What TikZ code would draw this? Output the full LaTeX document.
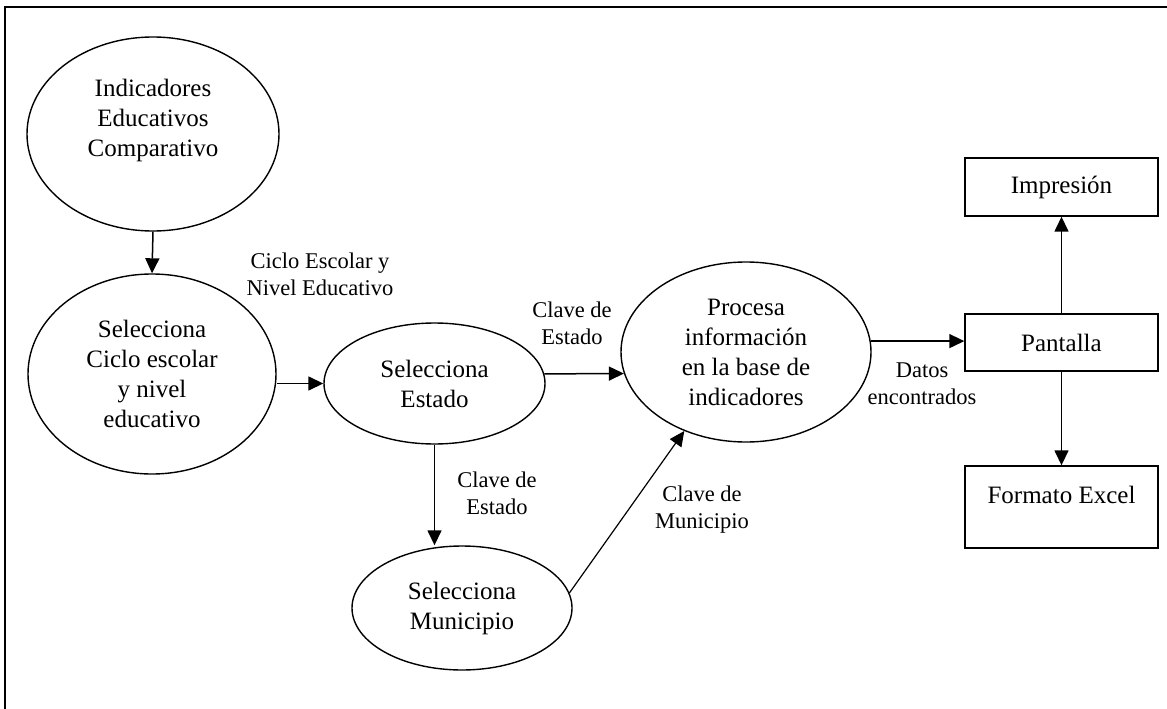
\documentclass[tikz,border=0pt]{standalone}
\usepackage{fontspec}
\setmainfont{Liberation Serif}
\usetikzlibrary{shapes.geometric,arrows.meta}

\tikzset{
  proc/.style={draw, ellipse, line width=1.4pt, align=center, inner sep=0pt,
    font=\fontsize{25}{30}\selectfont},
  proctext/.style={align=center, font=\fontsize{25}{30}\selectfont},
  outbox/.style={draw, rectangle, line width=1.4pt, minimum width=193pt,
    align=center, inner sep=0pt, font=\fontsize{25}{30}\selectfont},
  flow/.style={line width=1.5pt, -{Triangle[length=15pt,width=14pt]}},
  lbl/.style={align=center, font=\fontsize{22.5}{27}\selectfont},
}

\begin{document}
\begin{tikzpicture}[x=1pt, y=-1pt]
  \useasboundingbox (0,0) rectangle (1167,709);
  % frame
  \draw[line width=2pt] (5,709) -- (5,7) -- (1167,7);

  % processes
  \node[proc, minimum width=252pt, minimum height=194pt,
    label={[proctext, yshift=14pt]center:{Indicadores\\Educativos\\Comparativo}}] (indic) at (153,134) {};
  \node[proc, minimum width=248pt, minimum height=200pt] (selciclo) at (152,374)
    {Selecciona\\Ciclo escolar\\y nivel\\educativo};
  \node[proc, minimum width=221pt, minimum height=121pt] (selestado) at (434.5,383.5)
    {Selecciona\\Estado};
  \node[proc, minimum width=250pt, minimum height=180pt] (procesa) at (746,352)
    {Procesa\\información\\en la base de\\indicadores};
  \node[proc, minimum width=220pt, minimum height=124pt] (selmun) at (462,608)
    {Selecciona\\Municipio};

  % outputs
  \node[outbox, minimum height=58pt] (impresion) at (1061.5,187) {Impresión};
  \node[outbox, minimum height=57pt] (pantalla) at (1061.5,342.5) {Pantalla};
  \node[outbox, minimum height=82pt,
    label={[proctext, yshift=12pt]center:Formato Excel}] (excel) at (1061.5,507) {};

  % flow labels
  \node[lbl] (lciclo) at (320,274) {Ciclo Escolar y\\Nivel Educativo};
  \node[lbl] (lestado) at (572,323) {Clave de\\Estado};
  \node[lbl] (lestadob) at (497,493) {Clave de\\Estado};
  \node[lbl] (lmun) at (702,510) {Clave de\\Municipio};
  \node[lbl] (ldatos) at (922,384) {Datos\\encontrados};

  % flows
  \draw[flow] (indic.south) -- (selciclo.north);
  \draw[flow] (selciclo.east |- selestado) -- (selestado.west);
  \draw[flow] (selestado.5) -- (procesa.190);
  \draw[flow] (selestado.south) -- (selestado.south |- selmun.north);
  \draw[flow, line width=1.2pt] (selmun.8) -- (procesa.232);
  \draw[flow] (procesa.5) -- (procesa.5 -| pantalla.west);
  \draw[flow] (pantalla.north) -- (impresion.south);
  \draw[flow] (pantalla.south) -- (excel.north);
\end{tikzpicture}
\end{document}
